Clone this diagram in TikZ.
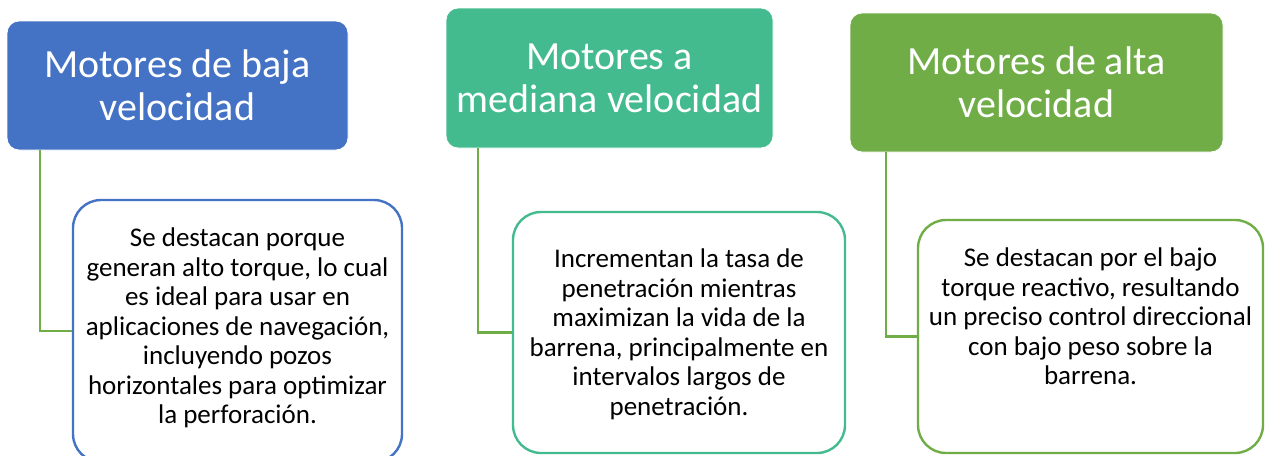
\documentclass[tikz,border=0pt]{standalone}
\usepackage{fontspec}
\setmainfont{Carlito}
\usetikzlibrary{shapes,arrows,positioning}
\definecolor{lowblue}{HTML}{4472C4}
\definecolor{midteal}{HTML}{44BB8F}
\definecolor{highgreen}{HTML}{70AD47}

\begin{document}
\begin{tikzpicture}[x=1pt,y=-1pt,
	head/.style={rounded corners=12pt, draw=white, line width=0.8pt, text=white, align=center, inner sep=0pt, font=\fontsize{40}{43}\selectfont},
	frame/.style={rounded corners=28pt, fill=white, line width=2.4pt},
	desc/.style={align=center, inner sep=0pt, text=black, font=\fontsize{27}{29.5}\selectfont},
	link/.style={draw=highgreen, line width=2.2pt}]
				\useasboundingbox (0,0) rectangle (1265,455);
				\clip (0,0) rectangle (1265,455);
				% cabeceras
				\node [head, fill=lowblue, minimum width=341pt, minimum height=129pt] (headLow) at (177.5,85.5) {Motores de baja\\velocidad};
				\node [head, fill=midteal, minimum width=327pt, minimum height=140pt] (headMid) at (609.5,78) {Motores a\\mediana velocidad};
				\node [head, fill=highgreen, minimum width=373pt, minimum height=139pt] (headHigh) at (1036.5,82.5) {Motores de alta\\velocidad};
				% cajas de texto
				\node [frame, draw=lowblue, minimum width=329pt, minimum height=262pt] (frameLow) at (237.5,331) {};
				\node [frame, draw=midteal, minimum width=332pt, minimum height=241pt] (frameMid) at (679,332.5) {};
				\node [frame, draw=highgreen, minimum width=345pt, minimum height=233pt] (frameHigh) at (1090.5,336.5) {};
				\node [desc] (descLow) at ([yshift=3pt]frameLow.center) {Se destacan porque\\generan alto torque, lo cual\\es ideal para usar en\\aplicaciones de navegación,\\incluyendo pozos\\horizontales para optimizar\\la perforación.};
				\node [desc] (descMid) at ([yshift=-2pt]frameMid.center) {Incrementan la tasa de\\penetración mientras\\maximizan la vida de la\\barrena, principalmente en\\intervalos largos de\\penetración.};
				\node [desc] (descHigh) at ([yshift=20pt]frameHigh.center) {Se destacan por el bajo\\torque reactivo, resultando\\un preciso control direccional\\con bajo peso sobre la\\barrena.};
				% conectores
				\draw [link] ([xshift=33pt]headLow.south west) |- (frameLow.west);
				\draw [link] ([xshift=32pt]headMid.south west) |- (frameMid.west);
				\draw [link] ([xshift=36pt]headHigh.south west) |- (frameHigh.west);
\end{tikzpicture}
\end{document}
